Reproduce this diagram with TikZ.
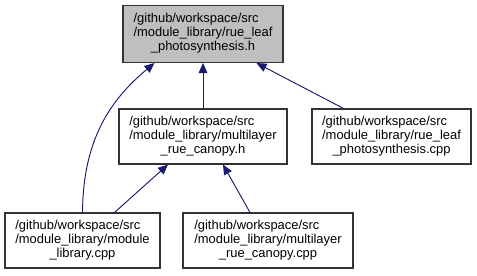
\documentclass[tikz,border=0pt]{standalone}
\usepackage{fontspec}
\setmainfont{Liberation Sans}
\usetikzlibrary{arrows.meta,calc}
\definecolor{edgeblue}{HTML}{191970}
\definecolor{topgray}{HTML}{BFBFBF}
\newcommand{\fname}[3]{\begin{tabular}{@{}l@{}}#1\\#2\\\multicolumn{1}{@{}c@{}}{#3}\end{tabular}}
\tikzset{
  filebox/.style={draw=black!80,line width=0.8pt,fill=white,inner sep=0pt,
    font=\fontsize{9.7}{10.5}\selectfont},
  incl/.style={edgeblue,line width=0.7pt,{Stealth[length=7.5pt,width=6.5pt,inset=0pt]}-}
}
\begin{document}
\begin{tikzpicture}[x=0.75pt,y=-0.75pt]
\useasboundingbox (0,0) rectangle (477,275);
% header being included
\node[filebox,fill=topgray,minimum width=120pt,minimum height=42.75pt] (hdr) at (203,34)
  {\fname{/github/workspace/src}{/module\_library/rue\_leaf}{\_photosynthesis.h}};
% second row
\node[filebox,minimum width=126pt,minimum height=41.25pt] (mlh) at (203,136.5)
  {\fname{/github/workspace/src}{/module\_library/multilayer}{\_rue\_canopy.h}};
\node[filebox,minimum width=119.25pt,minimum height=41.25pt] (rcpp) at (391.5,136.5)
  {\fname{/github/workspace/src}{/module\_library/rue\_leaf}{\_photosynthesis.cpp}};
% third row
\node[filebox,minimum width=116.25pt,minimum height=41.25pt] (mod) at (82.5,240.5)
  {\fname{/github/workspace/src}{/module\_library/module}{\_library.cpp}};
\node[filebox,minimum width=127.5pt,minimum height=41.25pt] (mlcpp) at (268,240.5)
  {\fname{/github/workspace/src}{/module\_library/multilayer}{\_rue\_canopy.cpp}};
% include edges
\coordinate (hdrL) at ($(hdr.south west)+(32,0)$);
\coordinate (hdrR) at ($(hdr.south east)+(-27,0)$);
\draw[incl] (hdrL) .. controls (110,100) and (83,140) .. (mod.north);
\draw[incl] (hdr.south) -- (mlh.north);
\draw[incl] (hdrR) -- ($(rcpp.north)+(-48,0)$);
\draw[incl] ($(mlh.south)+(-35,0)$) -- ($(mod.north)+(32,0)$);
\draw[incl] ($(mlh.south)+(20,0)$) -- ($(mlcpp.north)+(-18,0)$);
\end{tikzpicture}
\end{document}
